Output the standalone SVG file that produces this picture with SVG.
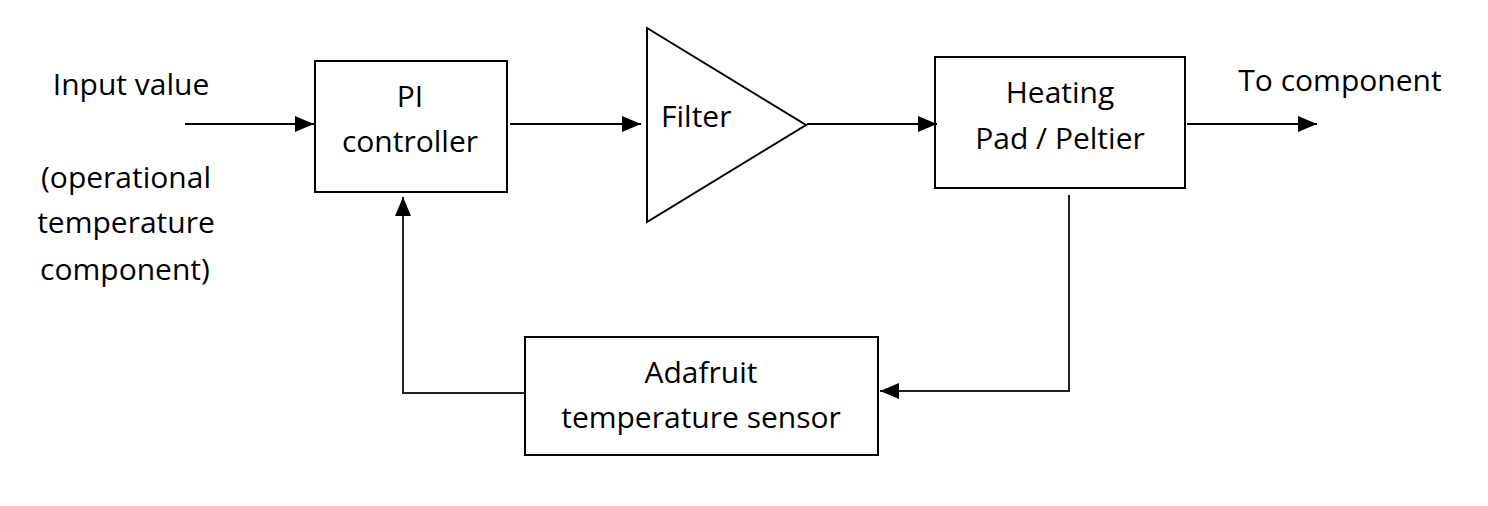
<svg xmlns="http://www.w3.org/2000/svg" width="1488" height="506" viewBox="0 0 1488 506">
<defs>
<style>
.box{fill:#fff;stroke:#000;stroke-width:2}
.ln{fill:none;stroke:#000;stroke-width:2}
.fb{fill:none;stroke:#222;stroke-width:2}
text{font-family:"Open Sans","Noto Sans",sans-serif;font-size:30px;fill:#000;text-anchor:middle}
</style>
<marker id="ah" viewBox="0 0 10 10" refX="10" refY="5" markerWidth="19" markerHeight="16" markerUnits="userSpaceOnUse" orient="auto" preserveAspectRatio="none">
<path d="M0,0 L10,5 L0,10 Z" fill="#000"/>
</marker>
</defs>
<rect width="1488" height="506" fill="#fff"/>
<g id="input-label">
<text x="131" y="95">Input value</text>
<text x="126" y="188">(operational</text>
<text x="126" y="233">temperature</text>
<text x="125" y="280">component)</text>
</g>
<g id="pi-controller">
<rect class="box" x="315" y="61" width="192" height="131"/>
<text x="410" y="107">PI</text>
<text x="410" y="152">controller</text>
</g>
<g id="filter">
<path class="box" d="M647,28 L806,125 L647,222 Z"/>
<text x="661" y="127" style="text-anchor:start">Filter</text>
</g>
<g id="heating">
<rect class="box" x="935" y="57" width="250" height="131"/>
<text x="1060" y="103">Heating</text>
<text x="1060" y="149">Pad / Peltier</text>
</g>
<g id="output-label">
<text x="1340" y="91">To component</text>
</g>
<g id="sensor">
<rect class="box" x="525" y="337" width="353" height="118"/>
<text x="701" y="383">Adafruit</text>
<text x="701" y="428">temperature sensor</text>
</g>
<g id="connectors">
<path class="ln" d="M185,124 H314" marker-end="url(#ah)"/>
<path class="ln" d="M510,124 H641" marker-end="url(#ah)"/>
<path class="ln" d="M807,124 H937" marker-end="url(#ah)"/>
<path class="ln" d="M1187,124 H1317" marker-end="url(#ah)"/>
<path class="fb" d="M1069,195 V391 H880" marker-end="url(#ah)"/>
<path class="fb" d="M525,393 H403 V197" marker-end="url(#ah)"/>
</g>
</svg>
